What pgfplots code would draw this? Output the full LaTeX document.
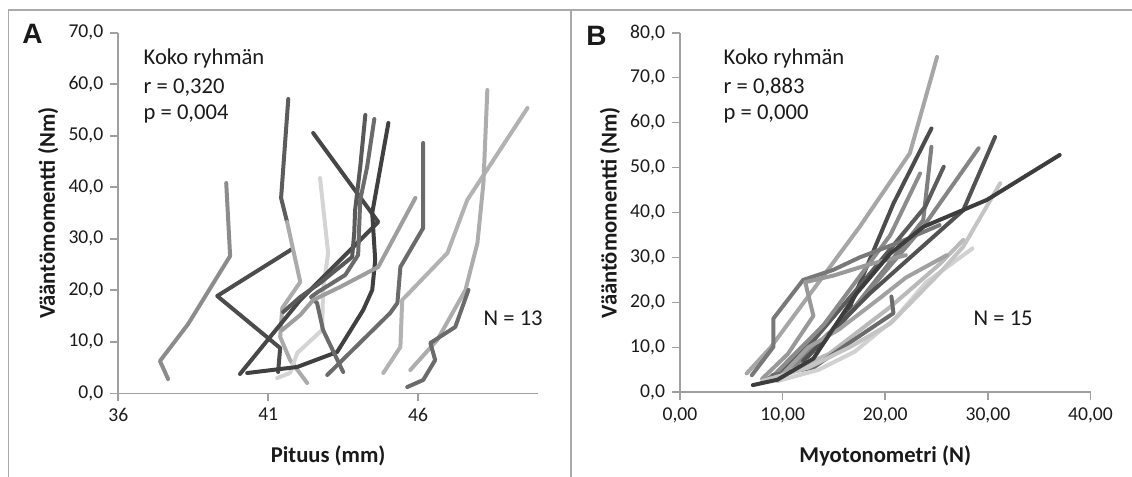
\documentclass[border=0pt]{standalone}
\usepackage{fontspec}
\setmainfont{Carlito}
\newfontfamily\arialfont{Liberation Sans}
\usepackage{pgfplots}
\pgfplotsset{compat=1.18}
\definecolor{axgray}{HTML}{A0A0A0}
\definecolor{txt}{HTML}{1A1A1A}

\pgfplotsset{
  panel/.style={
    scale only axis, anchor=south west,
    axis x line*=bottom, axis y line*=left,
    axis line style={axgray, line width=0.8pt},
    tick style={axgray, line width=0.8pt},
    tick align=outside, major tick length=4pt,
    tick label style={font=\fontsize{9.8}{11}\selectfont, text=txt},
    label style={font=\fontsize{11.3}{13}\selectfont\bfseries, text=txt},
    /pgf/number format/assume math mode=true,
    yticklabel style={/pgf/number format/fixed, /pgf/number format/fixed zerofill,
      /pgf/number format/precision=1, /pgf/number format/use comma},
    every axis plot/.append style={line width=2pt, no markers, line join=round, line cap=round},
  },
}
\newcommand{\ann}{\fontsize{11.3}{13}\selectfont\color{txt}}

\begin{document}
\begin{tikzpicture}
\useasboundingbox (0,0) rectangle (566pt,238.5pt);
\draw[axgray!90, line width=0.8pt] (4.25pt,0) -- (4.25pt,233.5pt) -- (566pt,233.5pt);
\draw[axgray!90, line width=0.8pt] (285.5pt,0) -- (285.5pt,233.5pt);

% panel A
\begin{axis}[panel, at={(59.15pt,41.85pt)}, width=209.85pt, height=180.3pt,
  xmin=36, xmax=50, ymin=0, ymax=70, xtick={36,41,46}, ytick={0,10,...,70},
  xlabel={Pituus (mm)}, ylabel={Vääntömomentti (Nm)},
  xlabel style={at={(axis description cs:0.5,-0.1747)}, anchor=center},
  ylabel style={at={(axis description cs:-0.1668,0.5)}, anchor=center}]
\addplot[black!45] coordinates {(37.66,2.78)(37.39,6.27)(38.33,13.45)(39.73,26.66)(39.60,40.83)};
\addplot[black!70] coordinates {(41.33,4.14)(41.40,8.79)(39.30,18.89)(41.80,28.01)};
\addplot[black!64] coordinates {(41.63,33.26)(41.43,37.92)(41.67,57.13)};
\addplot[black!33] coordinates {(42.30,2.00)(41.73,6.46)(41.40,10.93)(41.47,16.56)(42.07,21.61)(41.63,33.26)};
\addplot[black!17] coordinates {(41.30,2.97)(41.73,3.94)(41.97,7.82)(42.80,12.29)(42.83,20.05)(43.00,27.24)(42.73,41.80)};
\addplot[black!72] coordinates {(40.06,3.75)(42.07,18.11)(44.67,33.26)(42.50,50.53)};
\addplot[black!75] coordinates {(40.30,3.94)(41.97,5.11)(43.30,8.02)(44.17,16.17)(44.47,20.05)(44.57,25.88)(44.47,35.00)(45.01,52.48)};
\addplot[black!65] coordinates {(41.50,15.78)(42.07,18.70)(42.73,21.41)(43.80,26.46)(43.87,31.12)(43.90,35.59)(44.07,43.93)(44.24,54.03)};
\addplot[black!58] coordinates {(43.50,4.14)(42.83,12.29)(42.63,17.53)(42.43,18.70)(42.66,19.67)(43.57,22.97)(44.00,26.85)(44.07,37.53)(44.30,43.93)(44.54,53.25)};
\addplot[black!38] coordinates {(41.47,12.29)(42.07,15.20)(42.50,18.11)(43.40,20.64)(44.67,24.52)(45.91,37.92)};
\addplot[black!58] coordinates {(42.97,3.55)(45.07,15.59)(45.31,17.53)(45.41,24.52)(46.17,32.09)(46.17,48.59)};
\addplot[black!30] coordinates {(44.84,3.94)(45.41,8.99)(45.47,18.11)(46.98,27.24)(47.64,37.53)(49.65,55.39)};
\addplot[black!32] coordinates {(45.74,4.52)(46.64,10.35)(47.58,20.05)(47.98,29.18)(48.18,40.83)(48.31,58.88)};
\addplot[black!58] coordinates {(45.64,1.22)(46.17,2.58)(46.57,6.46)(46.41,9.77)(47.24,12.87)(47.68,20.05)};
\end{axis}

% panel B
\begin{axis}[panel, at={(340pt,42.35pt)}, width=205.25pt, height=179.8pt,
  xmin=0, xmax=40, ymin=0, ymax=80, xtick={0,10,...,40}, ytick={0,10,...,80},
  xticklabel style={/pgf/number format/fixed, /pgf/number format/fixed zerofill,
    /pgf/number format/precision=2, /pgf/number format/use comma},
  xlabel={Myotonometri (N)}, ylabel={Vääntömomentti (Nm)},
  xlabel style={at={(axis description cs:0.5,-0.177)}, anchor=center},
  ylabel style={at={(axis description cs:-0.1705,0.5)}, anchor=center}]
\addplot[black!35] coordinates {(6.5,4.2)(8.8,9.9)(17.5,36.8)(22.4,53.2)(25.05,74.6)};
\addplot[black!70] coordinates {(9.5,4.0)(12.5,8.0)(16.5,17.9)(16.7,19.8)(20.8,42.0)(24.5,58.7)};
\addplot[black!50] coordinates {(8.5,3.0)(11.0,6.0)(16.0,16.0)(23.7,38.3)(24.5,54.6)};
\addplot[black!64] coordinates {(10.0,5.0)(13.0,11.5)(18.0,25.0)(23.9,41.3)(25.7,50.2)};
\addplot[black!45] coordinates {(9.0,3.5)(14.0,15.0)(20.5,35.0)(23.4,48.7)};
\addplot[black!48] coordinates {(11.0,5.5)(16.5,17.5)(23.7,36.8)(29.1,54.3)};
\addplot[black!68] coordinates {(12.0,7.0)(18.5,22.0)(27.6,40.5)(30.7,56.8)};
\addplot[black!27] coordinates {(9.0,3.0)(14.5,8.5)(20.5,19.0)(25.3,28.5)(27.6,33.9)};
\addplot[black!53] coordinates {(7.0,3.8)(9.1,10.1)(9.1,16.4)(12.0,25.0)(14.9,27.2)(17.5,30.0)(21.5,33.5)(25.3,37.2)};
\addplot[black!40] coordinates {(8.0,3.0)(10.5,8.5)(13.0,17.0)(12.2,24.5)(15.0,26.0)(18.5,28.5)(22.0,30.5)};
\addplot[black!58] coordinates {(9.0,3.8)(13.0,5.5)(16.5,11.0)(20.8,17.6)(20.6,21.3)};
\addplot[black!18] coordinates {(9.5,2.5)(13.5,5.0)(17.0,9.0)(21.0,16.5)(24.0,24.5)(28.5,32.0)};
\addplot[black!37] coordinates {(10.0,4.0)(12.5,10.0)(15.5,14.0)(19.5,21.0)(22.0,25.5)(26.0,30.5)};
\addplot[black!23] coordinates {(8.0,2.5)(12.5,5.5)(16.6,10.1)(20.5,15.3)(25.3,26.5)(27.6,32.4)(31.2,46.5)};
\addplot[black!76] coordinates {(7.1,1.6)(9.5,2.8)(13.0,7.5)(17.2,22.0)(20.5,30.9)(23.7,36.8)(29.9,42.8)(37.0,52.8)};
\end{axis}

% texts
\node[font=\arialfont\fontsize{14}{16}\selectfont\bfseries, text=txt] at (16.2pt,221.5pt) {A};
\node[font=\arialfont\fontsize{14}{16}\selectfont\bfseries, text=txt] at (298.3pt,220.5pt) {B};
\node[anchor=base west, inner sep=0pt] at (71.65pt,206pt) {\ann Koko ryhmän};
\node[anchor=base west, inner sep=0pt] at (71.65pt,191.85pt) {\ann r = 0,320};
\node[anchor=base west, inner sep=0pt] at (71.65pt,178.5pt) {\ann p = 0,004};
\node[anchor=base west, inner sep=0pt] at (361.65pt,206pt) {\ann Koko ryhmän};
\node[anchor=base west, inner sep=0pt] at (361.65pt,191.85pt) {\ann r = 0,883};
\node[anchor=base west, inner sep=0pt] at (361.65pt,178.5pt) {\ann p = 0,000};
\node[anchor=base west, inner sep=0pt] at (241.65pt,75.5pt) {\ann N = 13};
\node[anchor=base west, inner sep=0pt] at (486.65pt,75.5pt) {\ann N = 15};
\end{tikzpicture}
\end{document}
